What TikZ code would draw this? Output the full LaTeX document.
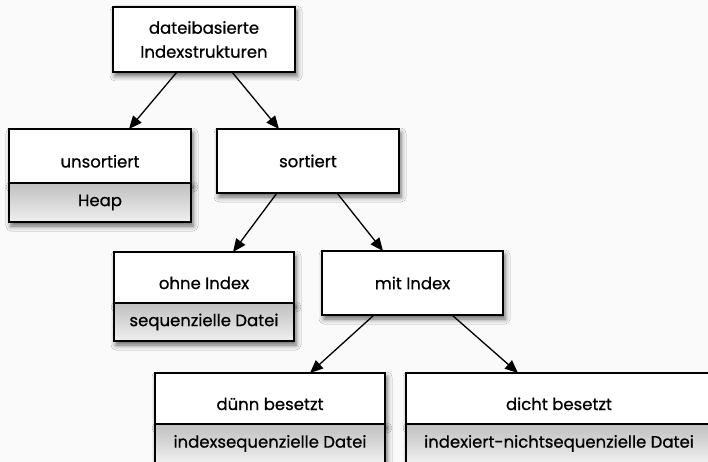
\documentclass[tikz,border=0pt]{standalone}
\usepackage{fontspec}
\newfontfamily\boxfont{Poppins}[FakeBold=0.7]
\usetikzlibrary{positioning,arrows.meta,shadows.blur}
\definecolor{paper}{HTML}{FAFAFA}
\tikzset{
  box/.style={draw=black, line width=1.4pt, fill=white, minimum width=#1,
    inner sep=0pt, outer sep=0pt, align=center,
    font=\boxfont\fontsize{16.5}{24}\selectfont,
    blur shadow={shadow xshift=2pt, shadow yshift=-4pt,
      shadow blur radius=5pt, shadow opacity=60}},
  headbox/.style={box=#1, text height=27pt, text depth=4pt},
  subbox/.style={box=#1, top color=black!25, bottom color=black!6},
  arrow/.style={line width=1.3pt, -{Triangle[length=13pt,width=11pt]}}
}
\begin{document}
\begin{tikzpicture}[x=1pt, y=-1pt]
            % Background and picture size
            \fill [paper] (0,0) rectangle (708,462);
            \useasboundingbox (0,0) rectangle (708,462);

            % Root and the two kinds of files
            \node [box=182pt, minimum height=65pt] (root) at (204,39.5)
              {dateibasierte\\Indexstrukturen};
            \node [headbox=182pt, minimum height=54pt] (unsort) at (100,156) {unsortiert};
            \node [subbox=182pt, minimum height=39pt, below=0pt of unsort] (heap) {Heap};
            \node [box=182pt, minimum height=64pt] (sort) at (308,161) {sortiert};

            % Sorted files, with and without index
            \node [headbox=180pt, minimum height=51pt] (noidx) at (204,277.5) {ohne Index};
            \node [subbox=180pt, minimum height=38pt, below=0pt of noidx] (seq) {sequenzielle Datei};
            \node [box=181pt, minimum height=64pt] (idx) at (412.5,283) {mit Index};

            % Sparse and dense index
            \node [headbox=230pt, minimum height=51pt] (sparse) at (270,398.5) {dünn besetzt};
            \node [subbox=230pt, minimum height=39pt, below=0pt of sparse] (idxseq)
              {indexsequenzielle Datei};
            \node [headbox=306pt, minimum height=51pt] (dense) at (559,398.5) {dicht besetzt};
            \node [subbox=306pt, minimum height=39pt, below=0pt of dense] (idxnonseq)
              {indexiert-nichtsequenzielle Datei};

            % Arrows from parent to child
            \foreach \from/\fs/\to/\ts in {
              root/-27/unsort/29,
              root/28/sort/-29,
              sort/-31/noidx/29,
              sort/29/idx/-29.5,
              idx/-38.5/sparse/40,
              idx/39.5/dense/-41} {
              \draw [arrow] ([xshift=\fs pt]\from.south) -- ([xshift=\ts pt]\to.north);
            }
        \end{tikzpicture}
\end{document}
